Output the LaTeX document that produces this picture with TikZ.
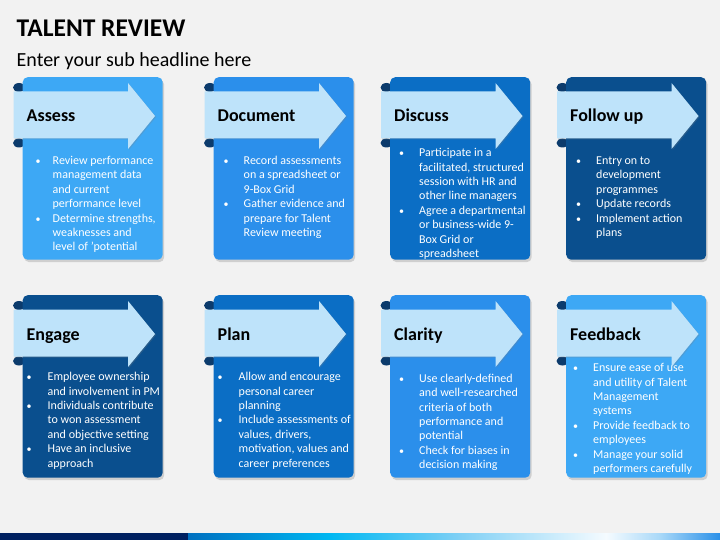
\documentclass[tikz,border=0pt]{standalone}
\usepackage{fontspec}
\setmainfont{Carlito}
\usetikzlibrary{shadows}
\definecolor{bg}{HTML}{F2F2F2}
\definecolor{cA}{HTML}{3DA8F5}
\definecolor{cB}{HTML}{2B8FEB}
\definecolor{cC}{HTML}{0B6EC5}
\definecolor{cD}{HTML}{0A4F8E}
\definecolor{bandc}{HTML}{BEE3FA}
\definecolor{curlc}{HTML}{0C3B6C}
\definecolor{navy}{HTML}{002060}
\definecolor{barA}{HTML}{0070C0}
\definecolor{barB}{HTML}{00B8F2}
\definecolor{barC}{HTML}{80D0F5}
\definecolor{barD}{HTML}{F5FBFF}
\definecolor{barE}{HTML}{A8D8F8}
\definecolor{barF}{HTML}{2A90E8}
\tikzset{
  cardbox/.style={rounded corners=5pt, inner sep=0pt, anchor=north west,
    minimum width=140, minimum height=182.5,
    drop shadow={shadow xshift=1.5pt, shadow yshift=-2.5pt, opacity=0.3}},
  bandarrow/.style={fill=bandc, drop shadow={shadow xshift=1pt, shadow yshift=-1pt, opacity=0.25}},
  curlshape/.style={fill=curlc},
  headtext/.style={anchor=base west, inner sep=0pt, font=\fontsize{18}{21}\selectfont\bfseries, text=black},
  bodytext/.style={anchor=base west, inner sep=0pt, font=\fontsize{12}{14.4}\selectfont, text=white},
  maintitle/.style={anchor=base west, inner sep=0pt, font=\fontsize{25.5}{30}\selectfont\bfseries, text=black},
  subtitle/.style={anchor=base west, inner sep=0pt, font=\fontsize{20}{24}\selectfont, text=black},
}
\newcommand\bul{{\fontsize{10}{10}\selectfont\textbullet}}
% #1 name, #2 left x, #3 top, #4 colour, #5 title, #6 bullet offset, #7 bullet column width, #8 first baseline, #9 body
\newcommand\talentcard[9]{%
  \fill[curlshape] (#2-3.5,#3+10.5) ellipse [x radius=6, y radius=4.5];
  \fill[curlshape] (#2-3.5,#3+66) ellipse [x radius=6, y radius=4.5];
  \node[cardbox, fill=#4, name=#1card] at (#2,#3) {};
  \node[bodytext, name=#1body] at (#2+#6,#8)
    {\begin{tabular}[t]{@{}p{#7pt}@{}l@{}}#9\end{tabular}};
  \path[bandarrow] (#2-9,#3+14.5) -- (#2+105.5,#3+14.5) -- (#2+105.5,#3+6)
     -- (#2+132.5,#3+39) -- (#2+105.5,#3+72) -- (#2+105.5,#3+61.5)
     -- (#2-9,#3+61.5) -- cycle;
  \node[headtext, name=#1head] at (#2+4,#3+45) {#5};
}
\begin{document}
\begin{tikzpicture}[x=1pt,y=-1pt]
\useasboundingbox (0,0) rectangle (720,540);
\fill[bg] (0,0) rectangle (720,540);
\node[maintitle, name=title] at (16.5,36.7) {TALENT REVIEW};
\node[subtitle, name=sub] at (16.5,66.5) {Enter your sub headline here};

\talentcard{assess}{22.5}{77}{cA}{Assess}{13}{17}{164.5}{%
\bul & Review performance\\ & management data\\ & and current\\ & performance level\\
\bul & Determine strengths,\\ & weaknesses and\\ & level of 'potential}
\talentcard{document}{213.5}{77}{cB}{Document}{10}{20}{164.5}{%
\bul & Record assessments\\ & on a spreadsheet or\\ & 9-Box Grid\\
\bul & Gather evidence and\\ & prepare for Talent\\ & Review meeting}
\talentcard{discuss}{390}{77}{cC}{Discuss}{9}{20}{156.7}{%
\bul & Participate in a\\ & facilitated, structured\\ & session with HR and\\ & other line managers\\
\bul & Agree a departmental\\ & or business-wide 9-\\ & Box Grid or\\ & spreadsheet}
\talentcard{follow}{566}{77}{cD}{Follow up}{10}{20}{164.5}{%
\bul & Entry on to\\ & development\\ & programmes\\
\bul & Update records\\
\bul & Implement action\\ & plans}

\talentcard{engage}{22.5}{295}{cD}{Engage}{4}{21}{380.7}{%
\bul & Employee ownership\\ & and involvement in PM\\
\bul & Individuals contribute\\ & to won assessment\\ & and objective setting\\
\bul & Have an inclusive\\ & approach}
\talentcard{plan}{213.5}{295}{cC}{Plan}{4}{21}{380.7}{%
\bul & Allow and encourage\\ & personal career\\ & planning\\
\bul & Include assessments of\\ & values, drivers,\\ & motivation, values and\\ & career preferences}
\talentcard{clarity}{390}{295}{cB}{Clarity}{9}{20}{382.3}{%
\bul & Use clearly-defined\\ & and well-researched\\ & criteria of both\\ & performance and\\ & potential\\
\bul & Check for biases in\\ & decision making}
\talentcard{feedback}{566}{295}{cA}{Feedback}{7}{20}{371.7}{%
\bul & Ensure ease of use\\ & and utility of Talent\\ & Management\\ & systems\\
\bul & Provide feedback to\\ & employees\\
\bul & Manage your solid\\ & performers carefully}

\fill[navy] (0,533) rectangle (188.5,540);
\shade[left color=barA, right color=barB] (188,533) rectangle (330.5,540);
\shade[left color=barB, right color=barC] (330,533) rectangle (460.5,540);
\shade[left color=barC, right color=barD] (460,533) rectangle (606.5,540);
\shade[left color=barD, right color=barE] (606,533) rectangle (660.5,540);
\shade[left color=barE, right color=barF] (660,533) rectangle (720,540);
\end{tikzpicture}
\end{document}
